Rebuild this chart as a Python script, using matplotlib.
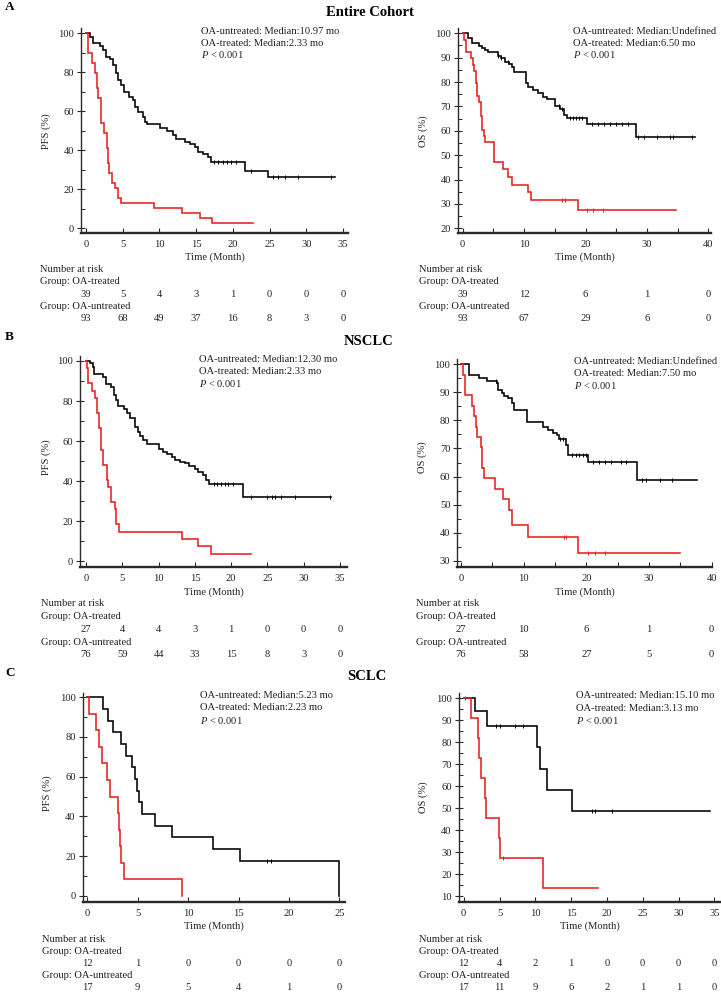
import numpy as np
import matplotlib
matplotlib.use("Agg")
import matplotlib.pyplot as plt
from matplotlib.transforms import blended_transform_factory
from matplotlib.ticker import MultipleLocator

plt.rcParams['font.family'] = ['Liberation Serif', 'DejaVu Serif']
plt.rcParams['mathtext.fontset'] = 'custom'
plt.rcParams['mathtext.rm'] = 'Liberation Serif'
plt.rcParams['mathtext.it'] = 'Liberation Serif:italic'

# ---------------- DATA ----------------
# Panel A (Entire cohort) - PFS
A_pfs_unt_t = [0, 0.54, 1.0, 1.9, 2.3, 2.7, 3.3, 3.7, 4.1, 4.4, 4.7, 5.2, 5.8, 6.4, 6.7, 7.1, 7.8, 8.0, 8.3,
               10.1, 11.0, 11.9, 12.3, 13.5, 14.1, 14.8, 15.3, 16.0, 16.6, 17.0, 21.6, 24.8]
A_pfs_unt_s = [100, 98.0, 94.9, 93.7, 91.5, 88.0, 86.7, 83.8, 79.8, 76.0, 73.5, 70.0, 67.5, 65.8, 62.4, 59.8, 57.3,
               54.7, 53.5, 51.3, 50.0, 47.9, 45.6, 44.4, 43.2, 41.9, 39.3, 38.0, 36.8, 34.2, 29.6, 26.5]
A_pfs_unt_end = 33.9
A_pfs_unt_cens = [17.4, 18.0, 18.6, 19.2, 19.8, 20.4, 22.5, 25.5, 26.2, 27.1, 28.9, 33.4]
A_pfs_trt_t = [0, 0.23, 0.77, 1.2, 1.45, 1.7, 2.0, 2.1, 2.4, 2.9, 3.0, 3.2, 3.6, 3.9, 4.3, 4.7, 9.2, 13.1, 15.5, 17.2]
A_pfs_trt_s = [100, 89.7, 84.6, 79.5, 71.8, 66.7, 59.0, 53.8, 48.7, 41.0, 33.3, 28.2, 23.1, 20.5, 15.4, 12.8,
               10.3, 7.7, 5.1, 2.6]
A_pfs_trt_end = 22.8
A_pfs_trt_cens = []

# Panel A - OS
A_os_unt_t = [0, 0.9, 1.5, 2.6, 3.1, 3.6, 4.2, 5.7, 6.2, 6.9, 7.6, 8.0, 8.4, 10.3, 10.7, 11.5, 12.3, 13.0,
              13.8, 15.1, 15.9, 16.5, 17.0, 20.3, 28.2]
A_os_unt_s = [100, 98.0, 95.9, 94.8, 93.8, 93.2, 92.2, 90.8, 89.7, 88.4, 87.4, 86.3, 84.0, 79.5, 77.8, 76.7,
              75.4, 74.0, 73.0, 70.2, 68.8, 66.5, 65.1, 62.8, 57.3]
A_os_unt_end = 37.8
A_os_unt_cens = [5.8, 6.3, 7.4, 15.7, 16.2, 17.5, 18.0, 18.5, 19.0, 19.5, 21.0, 22.0, 23.0, 24.0, 25.0, 26.0,
                 27.0, 28.6, 29.5, 31.6, 33.8, 34.3, 37.3]
A_os_trt_t = [0, 0.2, 0.5, 1.4, 1.6, 1.9, 2.1, 2.3, 2.7, 3.0, 3.15, 3.4, 3.6, 5.1, 6.6, 7.4, 8.0, 10.7, 11.1, 18.7]
A_os_trt_s = [100, 97.4, 92.3, 89.7, 87.2, 84.6, 79.5, 74.4, 71.8, 66.0, 60.5, 57.9, 55.3, 47.4, 44.2, 41.0,
              37.8, 34.7, 31.6, 27.6]
A_os_trt_end = 34.8
A_os_trt_cens = [16.1, 16.6, 20.2, 21.3, 22.8]

# Panel B (NSCLC) - PFS
B_pfs_unt_t = [0, 0.6, 0.9, 1.1, 2.4, 2.75, 3.4, 3.8, 4.1, 4.45, 5.2, 5.6, 6.05, 6.7, 7.1, 7.4, 7.9, 8.35,
               10.1, 10.6, 11.1, 11.8, 12.25, 12.9, 13.6, 14.2, 15.0, 15.5, 16.1, 16.6, 17.0, 21.65]
B_pfs_unt_s = [100, 98.8, 97.2, 93.5, 92.2, 88.5, 86.9, 83.0, 80.5, 77.5, 75.9, 73.9, 71.4, 67.2, 64.7, 62.6,
               60.6, 58.6, 55.9, 54.7, 53.6, 52.2, 50.6, 49.7, 48.9, 47.6, 45.9, 44.8, 43.1, 40.6, 38.6, 32.3]
B_pfs_unt_end = 33.8
B_pfs_unt_cens = [17.6, 18.1, 18.6, 19.1, 19.6, 20.3, 22.7, 24.9, 25.6, 26.1, 26.9, 28.8, 33.6]
B_pfs_trt_t = [0, 0.1, 0.3, 0.8, 1.3, 1.55, 1.8, 2.05, 2.3, 2.9, 3.1, 3.4, 4.0, 4.2, 4.6, 13.2, 15.5, 17.2]
B_pfs_trt_s = [100, 96.3, 88.9, 85.2, 81.5, 74.1, 66.7, 55.6, 48.1, 40.7, 37.0, 29.6, 25.9, 18.5, 14.8, 11.1,
               7.4, 3.7]
B_pfs_trt_end = 22.7
B_pfs_trt_cens = []

# Panel B - OS
B_os_unt_t = [0, 1.2, 2.8, 4.1, 5.7, 5.85, 6.5, 6.9, 7.55, 8.1, 8.45, 10.5, 13.1, 13.9, 14.7, 15.3, 15.7,
              16.8, 17.1, 20.3, 28.1]
B_os_unt_s = [100, 96.2, 95.0, 94.2, 93.2, 90.8, 89.7, 88.7, 87.9, 86.3, 83.7, 79.3, 77.8, 76.6, 75.6, 74.8,
              73.2, 71.2, 67.7, 65.3, 58.7]
B_os_unt_end = 37.7
B_os_unt_cens = [5.6, 15.8, 16.3, 17.7, 18.3, 18.9, 19.5, 20.0, 21.0, 22.0, 23.0, 24.0, 25.5, 26.4, 28.8,
                 29.5, 31.7, 33.6]
B_os_trt_t = [0, 0.27, 0.65, 1.8, 2.1, 2.35, 2.5, 3.15, 3.3, 3.7, 5.4, 6.75, 7.7, 8.1, 10.7, 18.7]
B_os_trt_s = [100, 96.3, 88.9, 85.2, 81.5, 77.8, 74.1, 70.4, 63.0, 59.3, 55.6, 51.9, 48.1, 42.6, 38.3, 32.8]
B_os_trt_end = 35.0
B_os_trt_cens = [16.4, 16.8, 20.3, 21.4, 23.0]

# Panel C (SCLC) - PFS
C_pfs_unt_t = [0, 1.59, 2.09, 2.52, 3.31, 3.84, 4.47, 4.74, 4.97, 5.17, 5.40, 6.72, 8.38, 12.5, 15.1, 25.0]
C_pfs_unt_s = [100, 94.1, 88.2, 82.4, 76.5, 70.6, 64.7, 58.8, 52.9, 47.1, 41.2, 35.3, 29.4, 23.5, 17.6, 0]
C_pfs_unt_end = 25.0
C_pfs_unt_cens = [17.8, 18.2]
C_pfs_trt_t = [0, 0.2, 0.83, 1.16, 1.42, 1.99, 2.25, 3.08, 3.18, 3.25, 3.34, 3.64, 9.37]
C_pfs_trt_s = [100, 91.7, 83.3, 75.0, 66.7, 58.3, 50.0, 41.7, 33.3, 25.0, 16.7, 8.3, 0]
C_pfs_trt_end = 9.37
C_pfs_trt_cens = []

# Panel C - OS
C_os_unt_t = [0, 1.58, 3.3, 10.19, 10.65, 11.67, 15.07]
C_os_unt_s = [100, 94.1, 87.4, 77.7, 68.0, 58.3, 48.6]
C_os_unt_end = 34.4
C_os_unt_cens = [4.5, 5.1, 7.2, 8.3, 17.9, 18.3, 20.7]
C_os_trt_t = [0, 1.02, 2.05, 2.19, 2.42, 2.98, 3.12, 4.98, 5.07, 11.02]
C_os_trt_s = [100, 90.9, 81.8, 72.7, 63.6, 54.5, 45.5, 36.4, 27.3, 13.6]
C_os_trt_end = 18.7
C_os_trt_cens = [0.2, 5.5]

# Risk tables
A_pfs_risk_t = [0, 5, 10, 15, 20, 25, 30, 35]
A_pfs_risk_trt = [39, 5, 4, 3, 1, 0, 0, 0]
A_pfs_risk_unt = [93, 68, 49, 37, 16, 8, 3, 0]
A_os_risk_t = [0, 10, 20, 30, 40]
A_os_risk_trt = [39, 12, 6, 1, 0]
A_os_risk_unt = [93, 67, 29, 6, 0]
B_pfs_risk_t = [0, 5, 10, 15, 20, 25, 30, 35]
B_pfs_risk_trt = [27, 4, 4, 3, 1, 0, 0, 0]
B_pfs_risk_unt = [76, 59, 44, 33, 15, 8, 3, 0]
B_os_risk_t = [0, 10, 20, 30, 40]
B_os_risk_trt = [27, 10, 6, 1, 0]
B_os_risk_unt = [76, 58, 27, 5, 0]
C_pfs_risk_t = [0, 5, 10, 15, 20, 25]
C_pfs_risk_trt = [12, 1, 0, 0, 0, 0]
C_pfs_risk_unt = [17, 9, 5, 4, 1, 0]
C_os_risk_t = [0, 5, 10, 15, 20, 25, 30, 35]
C_os_risk_trt = [12, 4, 2, 1, 0, 0, 0, 0]
C_os_risk_unt = [17, 11, 9, 6, 2, 1, 1, 0]

# Annotations
A_pfs_txt = ["OA-untreated: Median:10.97 mo", "OA-treated: Median:2.33 mo"]
A_os_txt = ["OA-untreated: Median:Undefined", "OA-treated: Median:6.50 mo"]
B_pfs_txt = ["OA-untreated: Median:12.30 mo", "OA-treated: Median:2.33 mo"]
B_os_txt = ["OA-untreated: Median:Undefined", "OA-treated: Median:7.50 mo"]
C_pfs_txt = ["OA-untreated: Median:5.23 mo", "OA-treated: Median:2.23 mo"]
C_os_txt = ["OA-untreated: Median:15.10 mo", "OA-treated: Median:3.13 mo"]

# ---------------- FIGURE ----------------
W, H = 721, 992
fig = plt.figure(figsize=(W / 100, H / 100), dpi=100)
RED = '#e62020'
FS = 7.6


def fx(px):
    return px / W


def fy(py):
    return 1 - py / H


def make_axes(box, xmap, ymap):
    l, t, r, b = box
    ax = fig.add_axes([fx(l), fy(b), (r - l) / W, (b - t) / H])
    (x0, px0), (x1, px1) = xmap
    sx = (px1 - px0) / (x1 - x0)
    ax.set_xlim(x0 - (px0 - l) / sx, x0 + (r - px0) / sx)
    (y0, py0), (y1, py1) = ymap
    sy = (py1 - py0) / (y0 - y1)
    ax.set_ylim(y1 - (b - py1) / sy, y0 + (py0 - t) / sy)
    return ax


def surv_at(t, s, c):
    idx = np.searchsorted(t, c, side='right') - 1
    return np.asarray(s)[idx]


def draw_curve(ax, t, s, end, cens, color):
    tt = list(t) + [end]
    ss = list(s) + [s[-1]]
    ax.step(tt, ss, where='post', color=color, lw=1.15, solid_joinstyle='miter', zorder=3)
    if cens:
        cs = [surv_at(t, s, c) for c in cens]
        ax.plot(cens, np.array(cs) + 0.0, ls='none', marker='|', ms=3.5, mew=0.7, color=color, zorder=3)


def style_axes(ax, xmajor, xminor, ymajor, yminor, ymin_tick, ymax_tick, xmax_tick):
    for sp in ['top', 'right']:
        ax.spines[sp].set_visible(False)
    ax.spines['bottom'].set_linewidth(1.7)
    ax.spines['left'].set_linewidth(1.0)
    ax.spines['bottom'].set_color('#2a2a2a')
    ax.spines['left'].set_color('#2a2a2a')
    ax.set_xticks(np.arange(0, xmax_tick + 0.01, xmajor))
    if xminor:
        ax.xaxis.set_minor_locator(MultipleLocator(xminor))
    ax.set_yticks(np.arange(ymin_tick, ymax_tick + 0.01, ymajor))
    ax.yaxis.set_minor_locator(MultipleLocator(yminor))
    ax.tick_params(axis='x', which='both', direction='in', length=3.5, width=0.8, color='#2a2a2a',
                   labelsize=FS, pad=5)
    ax.tick_params(axis='y', which='major', direction='inout', length=6, width=0.8, color='#2a2a2a',
                   labelsize=FS, pad=2)
    ax.tick_params(axis='y', which='minor', direction='in', length=3, width=0.7, color='#2a2a2a')
    for lab in ax.get_xticklabels() + ax.get_yticklabels():
        lab.set_color('#222222')


def risk_table(ax, text_x, rows_y, times, trt, unt):
    tr = blended_transform_factory(ax.transData, fig.transFigure)
    fig.text(fx(text_x), fy(rows_y[0]), "Number at risk", fontsize=FS, ha='left', va='center', color='#222')
    fig.text(fx(text_x), fy(rows_y[1]), "Group: OA-treated", fontsize=FS, ha='left', va='center', color='#222')
    fig.text(fx(text_x), fy(rows_y[3]), "Group: OA-untreated", fontsize=FS, ha='left', va='center', color='#222')
    for tm, n in zip(times, trt):
        ax.text(tm, fy(rows_y[2]), str(n), transform=tr, fontsize=FS, ha='center', va='center',
                clip_on=False, color='#222')
    for tm, n in zip(times, unt):
        ax.text(tm, fy(rows_y[4]), str(n), transform=tr, fontsize=FS, ha='center', va='center',
                clip_on=False, color='#222')


def annotate(x, ys, lines):
    fig.text(fx(x), fy(ys[0]), lines[0], fontsize=FS, ha='left', va='center', color='#222')
    fig.text(fx(x), fy(ys[1]), lines[1], fontsize=FS, ha='left', va='center', color='#222')
    fig.text(fx(x), fy(ys[2]), r"$P$ < 0.001", fontsize=FS, ha='left', va='center', color='#222')


panels = [
    # box, xmap, ymap, data, ticks, label, label pos, time label y, risk rows, risk x, annot x, annot ys
    dict(box=(81, 28, 348, 233), xmap=((0, 86), (35, 343)), ymap=((100, 33.3), (0, 228.3)),
         unt=(A_pfs_unt_t, A_pfs_unt_s, A_pfs_unt_end, A_pfs_unt_cens),
         trt=(A_pfs_trt_t, A_pfs_trt_s, A_pfs_trt_end, A_pfs_trt_cens),
         ticks=(5, None, 20, 10, 0, 100, 35), ylabel="PFS (%)", ylab_pos=(46.5, 131),
         time_y=257.5, rows=(270, 281.7, 294.3, 306.7, 318.3), risk_x=40,
         risk=(A_pfs_risk_t, A_pfs_risk_trt, A_pfs_risk_unt),
         ann_x=201, ann_y=(31.7, 43.3, 54.5), ann=A_pfs_txt),
    dict(box=(458, 28, 711, 233), xmap=((0, 462.7), (40, 708.3)), ymap=((100, 33.3), (20, 228.3)),
         unt=(A_os_unt_t, A_os_unt_s, A_os_unt_end, A_os_unt_cens),
         trt=(A_os_trt_t, A_os_trt_s, A_os_trt_end, A_os_trt_cens),
         ticks=(10, 5, 10, 5, 20, 100, 40), ylabel="OS (%)", ylab_pos=(423.5, 131),
         time_y=257.5, rows=(270, 281.7, 294.3, 306.7, 318.3), risk_x=419,
         risk=(A_os_risk_t, A_os_risk_trt, A_os_risk_unt),
         ann_x=573, ann_y=(31.7, 43.3, 54.5), ann=A_os_txt),
    dict(box=(80, 356, 347, 567.3), xmap=((0, 86), (35, 340)), ymap=((100, 361), (0, 561.3)),
         unt=(B_pfs_unt_t, B_pfs_unt_s, B_pfs_unt_end, B_pfs_unt_cens),
         trt=(B_pfs_trt_t, B_pfs_trt_s, B_pfs_trt_end, B_pfs_trt_cens),
         ticks=(5, None, 20, 10, 0, 100, 35), ylabel="PFS (%)", ylab_pos=(45.7, 457),
         time_y=592.3, rows=(603.3, 616.7, 630, 642.7, 654.3), risk_x=40.7,
         risk=(B_pfs_risk_t, B_pfs_risk_trt, B_pfs_risk_unt),
         ann_x=199.3, ann_y=(359.3, 371.7, 383.5), ann=B_pfs_txt),
    dict(box=(457.3, 359.3, 712, 567.3), xmap=((0, 461), (40, 711.7)), ymap=((100, 364.3), (30, 560.7)),
         unt=(B_os_unt_t, B_os_unt_s, B_os_unt_end, B_os_unt_cens),
         trt=(B_os_trt_t, B_os_trt_s, B_os_trt_end, B_os_trt_cens),
         ticks=(10, 5, 10, 5, 30, 100, 40), ylabel="OS (%)", ylab_pos=(422, 457),
         time_y=592.3, rows=(603.3, 616.7, 630, 642.7, 654.3), risk_x=416,
         risk=(B_os_risk_t, B_os_risk_trt, B_os_risk_unt),
         ann_x=574, ann_y=(361.7, 373.3, 385), ann=B_os_txt),
    dict(box=(82.7, 693.3, 345, 901.7), xmap=((0, 87.3), (25, 339.3)), ymap=((100, 697.3), (0, 895.7)),
         unt=(C_pfs_unt_t, C_pfs_unt_s, C_pfs_unt_end, C_pfs_unt_cens),
         trt=(C_pfs_trt_t, C_pfs_trt_s, C_pfs_trt_end, C_pfs_trt_cens),
         ticks=(5, None, 20, 10, 0, 100, 25), ylabel="PFS (%)", ylab_pos=(46.7, 793),
         time_y=926, rows=(939.3, 951, 963.3, 976, 987.3), risk_x=42.3,
         risk=(C_pfs_risk_t, C_pfs_risk_trt, C_pfs_risk_unt),
         ann_x=200, ann_y=(695, 707.3, 720), ann=C_pfs_txt),
    dict(box=(458.7, 693.3, 721, 902), xmap=((0, 463.7), (35, 714.3)), ymap=((100, 698.3), (10, 896)),
         unt=(C_os_unt_t, C_os_unt_s, C_os_unt_end, C_os_unt_cens),
         trt=(C_os_trt_t, C_os_trt_s, C_os_trt_end, C_os_trt_cens),
         ticks=(5, None, 10, 5, 10, 100, 35), ylabel="OS (%)", ylab_pos=(422.7, 796.7),
         time_y=926, rows=(939.3, 951, 963.3, 976, 987.3), risk_x=419,
         risk=(C_os_risk_t, C_os_risk_trt, C_os_risk_unt),
         ann_x=576, ann_y=(696, 708.3, 720.7), ann=C_os_txt),
]

for p in panels:
    ax = make_axes(p['box'], p['xmap'], p['ymap'])
    ax.patch.set_alpha(0)
    draw_curve(ax, *p['unt'], color='black')
    draw_curve(ax, *p['trt'], color=RED)
    style_axes(ax, *p['ticks'])
    fig.text(fx(p['ylab_pos'][0]), fy(p['ylab_pos'][1]), p['ylabel'], rotation=90, fontsize=FS,
             ha='center', va='center', color='#222')
    cx = (p['box'][0] + p['box'][2]) / 2
    tr = blended_transform_factory(ax.transAxes, fig.transFigure)
    ax.text(0.5, fy(p['time_y']), "Time (Month)", transform=tr, fontsize=FS, ha='center', va='center',
            color='#222')
    risk_table(ax, p['risk_x'], p['rows'], *p['risk'])
    annotate(p['ann_x'], p['ann_y'], p['ann'])

# titles and panel letters
for letter, ly in [("A", 7.5), ("B", 337), ("C", 673.5)]:
    fig.text(fx(5), fy(ly), letter, fontsize=9.5, fontweight='bold', ha='left', va='center')
for title, tx, ty in [("Entire Cohort", 370, 12), ("NSCLC", 368.5, 341.7), ("SCLC", 367, 676.7)]:
    fig.text(fx(tx), fy(ty), title, fontsize=10.5, fontweight='bold', ha='center', va='center')

fig.savefig("out.png", dpi=100)
